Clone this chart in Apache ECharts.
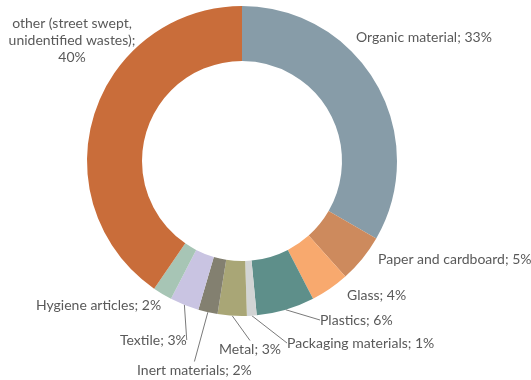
<!DOCTYPE html>
<html>
<head>
<meta charset="utf-8">
<script src="https://cdn.jsdelivr.net/npm/echarts@6/dist/echarts.min.js"></script>
<style>
  html, body { margin: 0; padding: 0; background: #fff; }
  #main { width: 531px; height: 380px; }
</style>
</head>
<body>
<div id="main"></div>
<script>
// waste composition, clockwise from 12 o'clock
const categories = [
  'Organic material',
  'Paper and cardboard',
  'Glass',
  'Plastics',
  'Packaging materials',
  'Metal',
  'Inert materials',
  'Textile',
  'Hygiene articles',
  'other (street swept, unidentified wastes)'
];
const shares = [33, 5, 4, 6, 1, 3, 2, 3, 2, 40];
const sliceColors = [
  '#879ca8', '#cd8a5d', '#f8a96e', '#5e8f8a', '#d2d4d4',
  '#a9a676', '#838070', '#c9c4e2', '#a7c5b5', '#c96d3a'
];
// which slices get a leader line
const hasLeader = [false, false, false, true, true, true, true, true, false, false];

// hand placed label anchors (like the original excel chart)
const labelAnchor = [
  [356, 37, 'left'],
  [378, 259, 'left'],
  [347, 295, 'left'],
  [320, 320, 'left'],
  [287, 343, 'left'],
  [219, 349, 'left'],
  [137, 370, 'left'],
  [120, 340, 'left'],
  [36, 305, 'left'],
  [72, 40, 'center']
];

const TextColor = '#595959';
const LineColor = '#7a7a7a';

function labelText(p) {
  if (p.dataIndex === categories.length - 1) {
    return 'other (street swept,\nunidentified wastes);\n' + p.value + '%';
  }
  return p.name + '; ' + p.value + '%';
}

var chart = echarts.init(document.getElementById('main'));

var pieData = [];
for (var i = 0; i < categories.length; i++) {
  pieData.push({
    name: categories[i],
    value: shares[i],
    itemStyle: { color: sliceColors[i] },
    labelLine: { show: hasLeader[i] }
  });
}

var option = {
  backgroundColor: '#ffffff',
  animation: false,
  series: [{
    type: 'pie',
    center: [242, 161],
    radius: [100, 155],
    startAngle: 90,
    clockwise: true,
    avoidLabelOverlap: false,
    data: pieData,
    label: {
      show: true,
      position: 'outside',
      formatter: labelText,
      color: TextColor,
      fontFamily: 'Lato',
      fontSize: 14,
      lineHeight: 17
    },
    labelLine: {
      show: true,
      length: 8,
      length2: 0,
      lineStyle: { color: LineColor, width: 1 }
    },
    labelLayout: function (params) {
      var a = labelAnchor[params.dataIndex];
      return { x: a[0], y: a[1], align: a[2], verticalAlign: 'middle' };
    }
  }]
};
chart.setOption(option);
</script>
</body>
</html>
